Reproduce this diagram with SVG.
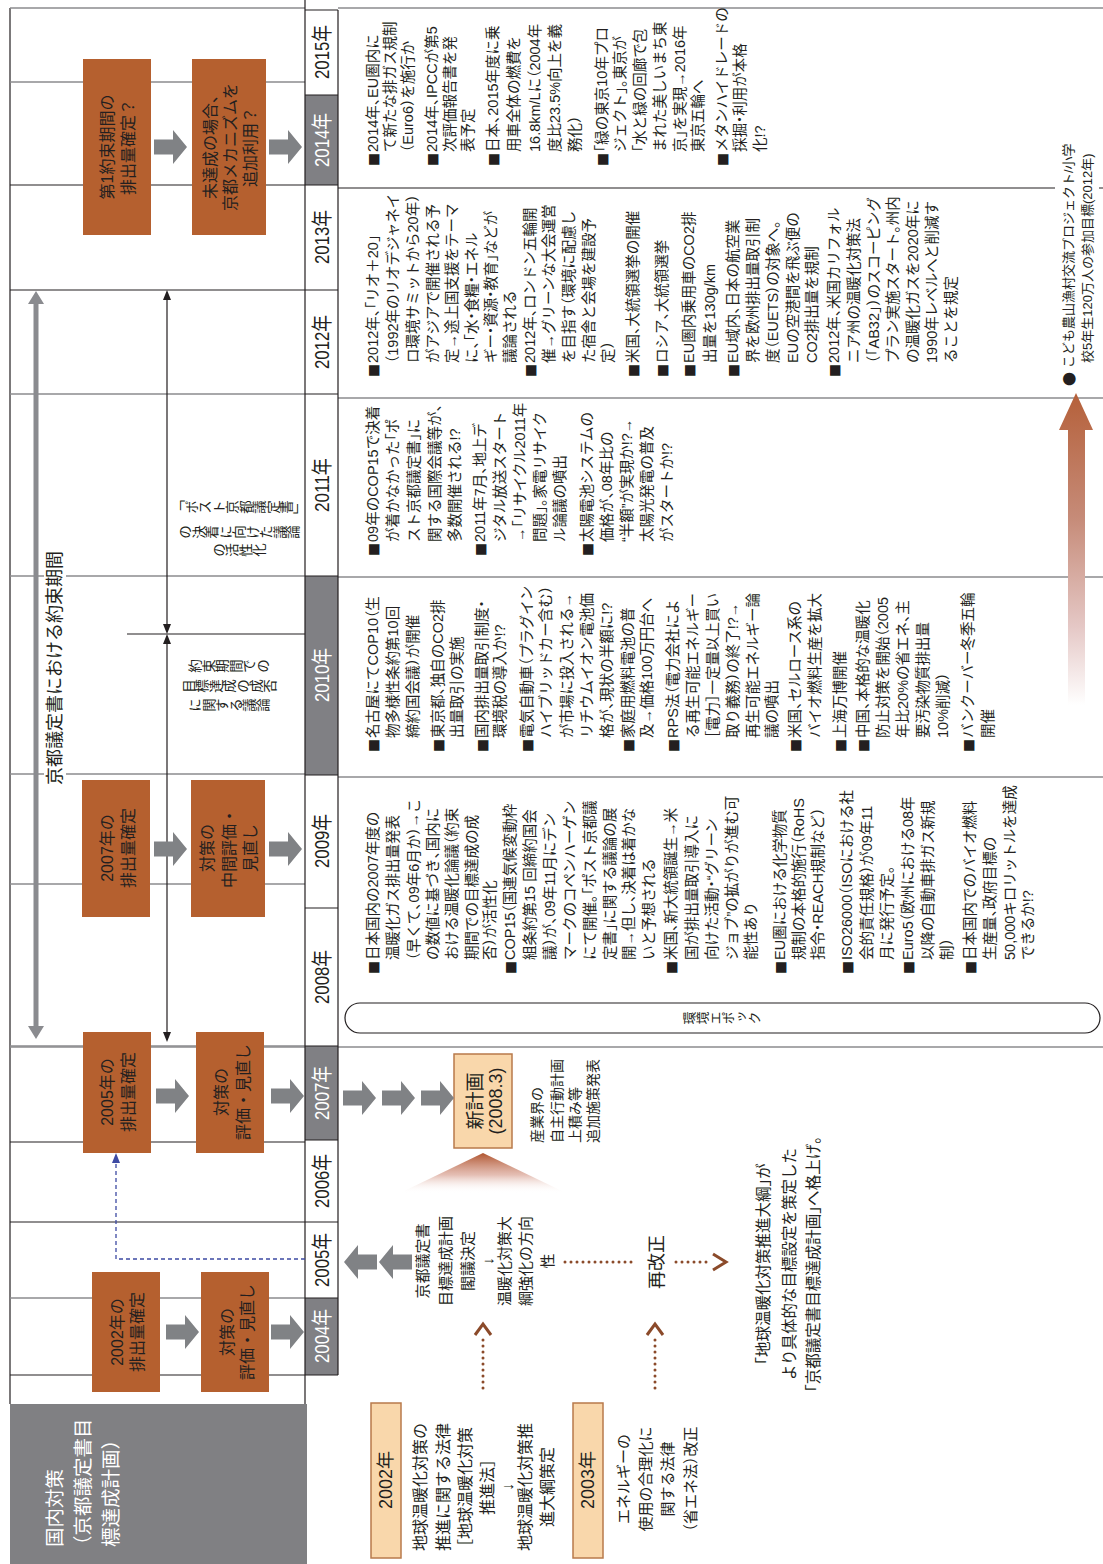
<svg xmlns="http://www.w3.org/2000/svg" width="1103" height="1564" viewBox="0 0 1103 1564">
<defs>
<style>
text{font-family:"Liberation Sans","Noto Sans CJK JP",sans-serif;dominant-baseline:central;fill:#231f20}
.b{font-size:14.5px}
.h{font-feature-settings:"halt"}
.sq{font-family:"Noto Sans CJK JP",sans-serif;font-size:13px}
.w{fill:#fff}
.yr{font-size:21px;text-anchor:middle}
.bx{font-size:16px;text-anchor:middle;fill:#fff}
.c{text-anchor:middle}
.box{fill:#b5602f}
.pe{fill:#f9d7ab;stroke:#b87a4b;stroke-width:1.5}
.lk{stroke:#231f20;stroke-width:1.2;fill:none}
.lg{stroke:#8c8c8f;stroke-width:1.4;fill:none}
.vt{writing-mode:vertical-rl;text-anchor:middle;font-size:13.5px;font-family:"Noto Sans CJK JP",sans-serif}
.dot{stroke:#8b4a2a;stroke-width:3;stroke-linecap:round;stroke-dasharray:0 6;fill:none}
.chev{stroke:#8b4a2a;stroke-width:3;fill:none;stroke-linejoin:miter}
</style>
<path id="ar" d="M0,-7.5 H19 V-17 L33,0 L19,17 V7.5 H0 Z" fill="#808285"/>
<linearGradient id="gTri" x1="0" y1="0" x2="0" y2="1">
<stop offset="0" stop-color="#b0552f"/>
<stop offset="0.55" stop-color="#d9a394" stop-opacity="0.7"/>
<stop offset="1" stop-color="#fff" stop-opacity="0"/>
</linearGradient>
<linearGradient id="gUp" x1="0" y1="0" x2="0" y2="1">
<stop offset="0" stop-color="#b5603a"/>
<stop offset="0.4" stop-color="#c68b78"/>
<stop offset="0.75" stop-color="#e5c8c6"/>
<stop offset="1" stop-color="#fff"/>
</linearGradient>
</defs>
<rect width="1103" height="1564" fill="#fff"/>

<!-- grid: left timeline panel and text rows -->
<g id="grid">
<path class="lk" d="M10,8 V1404"/>
<path class="lg" d="M10,8 H305 M10,82 H305 M10,394 H305 M10,576 H305 M10,774 H305 M10,884 H305 M10,1046 H305 M10,1298 H305"/>
<path class="lk" d="M10,185 H305 M10,290 H305 M127,634 H305 M10,1142 H305 M10,1222 H305 M10,1375 H305"/>
<path class="lg" d="M338,8 H1103 M338,398 H1103 M338,577 H1103 M338,777 H1103 M10,1047 H1103"/>
<path class="lk" d="M338,188 H1103"/>
</g>

<!-- year column -->
<g id="years">
<rect x="305" y="95" width="33" height="90" fill="#808084"/>
<rect x="305" y="576" width="33" height="199" fill="#808084"/>
<rect x="305" y="1046" width="33" height="94" fill="#808084"/>
<rect x="305" y="1298" width="33" height="77" fill="#808084"/>
<path class="lk" d="M305,0 V1404 M338,10 V1375 M305,10 H338 M305,95 H338 M305,185 H338 M305,290 H338 M305,394 H338 M305,576 H338 M305,775 H338 M305,908 H338 M305,1046 H338 M305,1140 H338 M305,1222 H338 M305,1298 H338 M305,1375 H338"/>
</g>

<!-- commitment period span -->
<g id="period">
<path d="M36,300 V1030" stroke="#8a8b8f" stroke-width="5" fill="none"/>
<path d="M36,291 L44,304 L28,304 Z M36,1039 L44,1026 L28,1026 Z" fill="#8a8b8f"/>
<rect x="44" y="548" width="22" height="242" fill="#fff"/>
</g>

<!-- discussion span -->
<g id="discussion">
<path class="lk" d="M167,298 V626 M167,642 V1034"/>
<path d="M167,290 L171,300 L163,300 Z M167,634 L171,624 L163,624 Z M167,634 L171,644 L163,644 Z M167,1042 L171,1032 L163,1032 Z" fill="#231f20"/>
</g>

<!-- orange milestone boxes -->
<g id="b2014a"><rect class="box" x="83" y="59" width="68" height="176"/></g>
<g id="b2014b"><rect class="box" x="192" y="59" width="74" height="176"/></g>
<g id="b2009a"><rect class="box" x="82" y="780" width="68" height="137"/></g>
<g id="b2009b"><rect class="box" x="191" y="780" width="74" height="137"/></g>
<g id="b2007a"><rect class="box" x="83" y="1032" width="68" height="121"/></g>
<g id="b2007b"><rect class="box" x="196" y="1032" width="68" height="121"/></g>
<g id="b2004a"><rect class="box" x="92" y="1272" width="68" height="120"/></g>
<g id="b2004b"><rect class="box" x="201" y="1272" width="68" height="120"/></g>

<!-- domestic measures header -->
<g id="header"><rect x="10" y="1404" width="297" height="160" fill="#808083"/></g>

<!-- new plan box and law boxes -->
<g id="newplan"><rect class="pe" x="454" y="1054" width="58" height="94"/></g>
<g id="y2002"><rect class="pe" x="371" y="1403" width="30" height="155"/></g>
<g id="y2003"><rect class="pe" x="573" y="1403" width="30" height="155"/></g>

<!-- epoch band -->
<g id="epoch"><rect x="345" y="1003" width="755" height="30" rx="15" ry="15" fill="none" stroke="#231f20" stroke-width="1.2"/></g>

<!-- connectors -->
<g id="connectors">
<use href="#ar" x="154" y="147"/><use href="#ar" x="269" y="147"/>
<use href="#ar" x="154" y="849"/><use href="#ar" x="269" y="849"/>
<use href="#ar" x="156" y="1096"/><use href="#ar" x="271" y="1096"/>
<use href="#ar" x="166" y="1332"/><use href="#ar" x="271" y="1332"/>
<use href="#ar" x="343" y="1098"/><use href="#ar" x="382" y="1098"/><use href="#ar" x="421" y="1098"/>
<use href="#ar" transform="translate(377,1262) scale(-1,1)"/>
<use href="#ar" transform="translate(412,1262) scale(-1,1)"/>
<path d="M305,1259 H116 V1162" fill="none" stroke="#3d4aa3" stroke-width="1.3" stroke-dasharray="4 3"/>
<path d="M116,1153 L120,1163 L112,1163 Z" fill="#3d4aa3"/>
<path d="M483,1153 L566,1193 L400,1193 Z" fill="url(#gTri)"/>
<path class="dot" d="M565,1262 H637 M676,1262 H712"/>
<path class="chev" d="M713,1254 L726,1262 L713,1270"/>
<path class="dot" d="M483,1388 V1334 M655,1388 V1334"/>
<path class="chev" d="M475,1335 L483,1324 L491,1335 M647,1335 L655,1324 L663,1335"/>
<path d="M1076,393 L1093,430 L1085,430 L1085,705 L1068,705 L1068,430 L1059,430 Z" fill="url(#gUp)"/>
<rect x="1055" y="135" width="44" height="250" fill="#fff"/>
</g>

<!-- all text, set in the landscape frame -->
<g transform="matrix(0,-1,1,0,0,1564)">
<g class="yr">
<text x="1512" y="321" textLength="54" lengthAdjust="spacingAndGlyphs">2015年</text>
<text x="1424" y="321" textLength="54" lengthAdjust="spacingAndGlyphs" class="w">2014年</text>
<text x="1327" y="321" textLength="54" lengthAdjust="spacingAndGlyphs">2013年</text>
<text x="1222" y="321" textLength="54" lengthAdjust="spacingAndGlyphs">2012年</text>
<text x="1079" y="321" textLength="54" lengthAdjust="spacingAndGlyphs">2011年</text>
<text x="889" y="321" textLength="54" lengthAdjust="spacingAndGlyphs" class="w">2010年</text>
<text x="723" y="321" textLength="54" lengthAdjust="spacingAndGlyphs">2009年</text>
<text x="587" y="321" textLength="54" lengthAdjust="spacingAndGlyphs">2008年</text>
<text x="471" y="321" textLength="54" lengthAdjust="spacingAndGlyphs" class="w">2007年</text>
<text x="383" y="321" textLength="54" lengthAdjust="spacingAndGlyphs">2006年</text>
<text x="304" y="321" textLength="54" lengthAdjust="spacingAndGlyphs">2005年</text>
<text x="228" y="321" textLength="54" lengthAdjust="spacingAndGlyphs" class="w">2004年</text>
</g>

<text x="896" y="55" class="c" style="font-size:18px">京都議定書における約束期間</text>
<text class="vt" x="1057" y="239">「ポスト京都議定書」</text>
<text class="vt" x="1032" y="239">の決着に向けた議論</text>
<text class="vt" x="1014" y="239">の活性化</text>
<text class="vt" x="898" y="229">約束期間での</text>
<text class="vt" x="878" y="229">目標達成の成否</text>
<text class="vt" x="859" y="229">に関する議論</text>

<g class="bx">
<text x="1417" y="107">第1約束期間の</text>
<text x="1417" y="128">排出量確定？</text>
<text x="1417" y="210">未達成の場合<tspan class="h">、</tspan></text>
<text x="1417" y="230">京都メカニズムを</text>
<text x="1417" y="250">追加利用？</text>
<text x="716" y="107">2007年の</text>
<text x="716" y="128">排出量確定</text>
<text x="716" y="207">対策の</text>
<text x="716" y="229">中間評価・</text>
<text x="716" y="250">見直し</text>
<text x="472" y="107">2005年の</text>
<text x="472" y="128">排出量確定</text>
<text x="472" y="221">対策の</text>
<text x="472" y="243">評価・見直し</text>
<text x="232" y="117">2002年の</text>
<text x="232" y="137">排出量確定</text>
<text x="232" y="227">対策の</text>
<text x="232" y="247">評価・見直し</text>
</g>

<g style="font-size:19.5px">
<text x="17" y="55" class="w">国内対策</text>
<text x="9" y="83" class="w">（京都議定書目</text>
<text x="17" y="111" class="w">標達成計画）</text>
</g>

<text x="463" y="475" class="c" style="font-size:19px">新計画</text>
<text x="463" y="496" class="c" style="font-size:18px">(2008.3)</text>
<g style="font-size:14px">
<text x="421" y="537">産業界の</text>
<text x="421" y="557">自主行動計画</text>
<text x="421" y="575">上積み等</text>
<text x="421" y="593">追加施策発表</text>
</g>
<g class="c" style="font-size:15px">
<text x="303" y="422">京都議定書</text>
<text x="303" y="445">目標達成計画</text>
<text x="303" y="467">閣議決定</text>
<text x="303" y="487">↓</text>
<text x="303" y="504">温暖化対策大</text>
<text x="303" y="525">綱強化の方向</text>
<text x="303" y="547">性</text>
</g>
<text x="302" y="657" class="c" style="font-size:18px">再改正</text>

<text x="84" y="386" class="c" style="font-size:18px">2002年</text>
<text x="84" y="588" class="c" style="font-size:18px">2003年</text>
<g class="c" style="font-size:16px">
<text x="77" y="420">地球温暖化対策の</text>
<text x="77" y="443">推進に関する法律</text>
<text x="77" y="465"><tspan class="h">［</tspan>地球温暖化対策</text>
<text x="77" y="487">推進法<tspan class="h">］</tspan></text>
<text x="77" y="507">↓</text>
<text x="77" y="525">地球温暖化対策推</text>
<text x="77" y="547">進大綱策定</text>
</g>
<g class="c" style="font-size:15px">
<text x="85" y="623">エネルギーの</text>
<text x="85" y="645">使用の合理化に</text>
<text x="85" y="667">関する法律</text>
<text x="85" y="690"><tspan class="h">（</tspan>省エネ法<tspan class="h">）</tspan>改正</text>
</g>
<g class="c" style="font-size:15.5px">
<text x="300" y="763"><tspan class="h">「</tspan>地球温暖化対策推進大綱<tspan class="h">」</tspan>が</text>
<text x="300" y="789">より具体的な目標設定を策定した</text>
<text x="300" y="813"><tspan class="h">「</tspan>京都議定書目標達成計画<tspan class="h">」</tspan>へ格上げ<tspan class="h">。</tspan></text>
</g>

<text class="vt" x="546" y="722" style="font-size:13px">環境エポック</text>

<text x="1178" y="1068" class="sq" style="font-size:14px">●</text>
<text x="1196" y="1068" style="font-size:13px">こども農山漁村交流プロジェクト/小学</text>
<text x="1201" y="1087" style="font-size:13px">校5年生120万人の参加目標(2012年)</text>

<!-- 2014-2015 -->
<g class="b">
<text x="1398" y="373" class="sq">■</text><text x="1412" y="373">2014年<tspan class="h">、</tspan>EU圏内に</text>
<text x="1412" y="390">て新たな排ガス規制</text>
<text x="1412" y="408"><tspan class="h">（</tspan>Euro6<tspan class="h">）</tspan>を施行か</text>
<text x="1398" y="432" class="sq">■</text><text x="1412" y="432">2014年<tspan class="h">、</tspan>IPCCが第5</text>
<text x="1412" y="450">次評価報告書を発</text>
<text x="1412" y="468">表予定</text>
<text x="1398" y="493" class="sq">■</text><text x="1412" y="493">日本<tspan class="h">、</tspan>2015年度に乗</text>
<text x="1412" y="514">用車全体の燃費を</text>
<text x="1412" y="535">16.8km/Lに<tspan class="h">（</tspan>2004年</text>
<text x="1412" y="555">度比23.5%向上を義</text>
<text x="1412" y="575">務化<tspan class="h">）</tspan></text>
<text x="1398" y="602" class="sq">■</text><text x="1412" y="602"><tspan class="h">「</tspan>緑の東京10年プロ</text>
<text x="1412" y="620">ジェクト<tspan class="h">」。</tspan>東京が</text>
<text x="1412" y="640"><tspan class="h">「</tspan>水と緑の回廊で包</text>
<text x="1412" y="660">まれた美しいまち東</text>
<text x="1412" y="680">京<tspan class="h">」</tspan>を実現→2016年</text>
<text x="1412" y="698">東京五輪へ</text>
<text x="1398" y="722" class="sq">■</text><text x="1412" y="722">メタンハイドレードの</text>
<text x="1412" y="740">採掘<tspan class="h">・</tspan>利用が本格</text>
<text x="1412" y="760">化!?</text>
</g>

<!-- 2012-2013 -->
<g class="b">
<text x="1187" y="373" class="sq">■</text><text x="1201" y="373">2012年<tspan class="h">、「</tspan>リオ＋20<tspan class="h">」</tspan></text>
<text x="1201" y="393"><tspan class="h">（</tspan>1992年のリオデジャネイ</text>
<text x="1201" y="413">ロ環境サミットから20年<tspan class="h">）</tspan></text>
<text x="1201" y="433">がアジアで開催される予</text>
<text x="1201" y="452">定→途上国支援をテーマ</text>
<text x="1201" y="472">に<tspan class="h">、「</tspan>水<tspan class="h">・</tspan>食糧<tspan class="h">・</tspan>エネル</text>
<text x="1201" y="491">ギー<tspan class="h">・</tspan>資源<tspan class="h">・</tspan>教育<tspan class="h">」</tspan>などが</text>
<text x="1201" y="510">議論される</text>
<text x="1187" y="530" class="sq">■</text><text x="1201" y="530">2012年<tspan class="h">、</tspan>ロンドン五輪開</text>
<text x="1201" y="549">催→グリーンな大会運営</text>
<text x="1201" y="569">を目指す<tspan class="h">（</tspan>環境に配慮し</text>
<text x="1201" y="589">た宿舎と会場を建設予</text>
<text x="1201" y="608">定<tspan class="h">）</tspan></text>
<text x="1187" y="633" class="sq">■</text><text x="1201" y="633">米国<tspan class="h">、</tspan>大統領選挙の開催</text>
<text x="1187" y="662" class="sq">■</text><text x="1201" y="662">ロシア<tspan class="h">、</tspan>大統領選挙</text>
<text x="1187" y="689" class="sq">■</text><text x="1201" y="689">EU圏内乗用車のCO2排</text>
<text x="1201" y="710">出量を130g/km</text>
<text x="1187" y="733" class="sq">■</text><text x="1201" y="733">EU域内<tspan class="h">、</tspan>日本の航空業</text>
<text x="1201" y="753">界を欧州排出量取引制</text>
<text x="1201" y="773">度<tspan class="h">（</tspan>EUETS<tspan class="h">）</tspan>の対象へ<tspan class="h">。</tspan></text>
<text x="1201" y="793">EUの空港間を飛ぶ便の</text>
<text x="1201" y="812">CO2排出量を規制</text>
<text x="1187" y="834" class="sq">■</text><text x="1201" y="834">2012年<tspan class="h">、</tspan>米国カリフォル</text>
<text x="1201" y="854">ニア州の温暖化対策法</text>
<text x="1201" y="874"><tspan class="h">（「</tspan>AB32<tspan class="h">」）</tspan>のスコーピング</text>
<text x="1201" y="893">プラン実施スタート<tspan class="h">。</tspan>州内</text>
<text x="1201" y="913">の温暖化ガスを2020年に</text>
<text x="1201" y="932">1990年レベルへと削減す</text>
<text x="1201" y="951">ることを規定</text>
</g>

<!-- 2011 -->
<g class="b">
<text x="1008" y="373" class="sq">■</text><text x="1022" y="373">09年のCOP15で決着</text>
<text x="1022" y="393">が着かなかった<tspan class="h">「</tspan>ポ</text>
<text x="1022" y="414">スト京都議定書<tspan class="h">」</tspan>に</text>
<text x="1022" y="435">関する国際会議等が<tspan class="h">、</tspan></text>
<text x="1022" y="455">多数開催される!?</text>
<text x="1008" y="480" class="sq">■</text><text x="1022" y="480">2011年7月<tspan class="h">、</tspan>地上デ</text>
<text x="1022" y="500">ジタル放送スタート</text>
<text x="1022" y="520">→<tspan class="h">「</tspan>リサイクル2011年</text>
<text x="1022" y="540">問題<tspan class="h">」。</tspan>家電リサイク</text>
<text x="1022" y="560">ル論議の噴出</text>
<text x="1008" y="587" class="sq">■</text><text x="1022" y="587">太陽電池システムの</text>
<text x="1022" y="607">価格が<tspan class="h">、</tspan>08年比の</text>
<text x="1022" y="627"><tspan class="h">“</tspan>半額<tspan class="h">”</tspan>が実現か!?→</text>
<text x="1022" y="647">太陽光発電の普及</text>
<text x="1022" y="667">がスタートか!?</text>
</g>

<!-- 2010 -->
<g class="b">
<text x="812" y="373" class="sq">■</text><text x="826" y="373">名古屋にてCOP10<tspan class="h">（</tspan>生</text>
<text x="826" y="393">物多様性条約第10回</text>
<text x="826" y="413">締約国会議<tspan class="h">）</tspan>が開催</text>
<text x="812" y="438" class="sq">■</text><text x="826" y="438">東京都<tspan class="h">、</tspan>独自のCO2排</text>
<text x="826" y="457">出量取引の実施</text>
<text x="812" y="482" class="sq">■</text><text x="826" y="482">国内排出量取引制度<tspan class="h">・</tspan></text>
<text x="826" y="500">環境税の導入か!?</text>
<text x="812" y="527" class="sq">■</text><text x="826" y="527">電気自動車<tspan class="h">（</tspan>プラグイン</text>
<text x="826" y="546">ハイブリッドカー含む<tspan class="h">）</tspan></text>
<text x="826" y="567">が市場に投入される→</text>
<text x="826" y="587">リチウムイオン電池価</text>
<text x="826" y="607">格が<tspan class="h">、</tspan>現状の半額に!?</text>
<text x="812" y="628" class="sq">■</text><text x="826" y="628">家庭用燃料電池の普</text>
<text x="826" y="647">及→価格100万円台へ</text>
<text x="812" y="673" class="sq">■</text><text x="826" y="673">RPS法<tspan class="h">（</tspan>電力会社によ</text>
<text x="826" y="693">る再生可能エネルギー</text>
<text x="826" y="713"><tspan class="h">［</tspan>電力<tspan class="h">］</tspan>一定量以上買い</text>
<text x="826" y="733">取り義務<tspan class="h">）</tspan>の終了!?→</text>
<text x="826" y="753">再生可能エネルギー論</text>
<text x="826" y="772">議の噴出</text>
<text x="812" y="795" class="sq">■</text><text x="826" y="795">米国<tspan class="h">、</tspan>セルロース系の</text>
<text x="826" y="815">バイオ燃料生産を拡大</text>
<text x="812" y="840" class="sq">■</text><text x="826" y="840">上海万博開催</text>
<text x="812" y="863" class="sq">■</text><text x="826" y="863">中国<tspan class="h">、</tspan>本格的な温暖化</text>
<text x="826" y="883">防止対策を開始<tspan class="h">（</tspan>2005</text>
<text x="826" y="903">年比20%の省エネ<tspan class="h">、</tspan>主</text>
<text x="826" y="923">要汚染物質排出量</text>
<text x="826" y="943">10%削減<tspan class="h">）</tspan></text>
<text x="812" y="968" class="sq">■</text><text x="826" y="968">バンクーバー冬季五輪</text>
<text x="826" y="988">開催</text>
</g>

<!-- 2008-2009 -->
<g class="b">
<text x="590" y="373" class="sq">■</text><text x="604" y="373">日本国内の2007年度の</text>
<text x="604" y="393">温暖化ガス排出量発表</text>
<text x="604" y="414"><tspan class="h">（</tspan>早くて<tspan class="h">、</tspan>09年6月か<tspan class="h">）</tspan>→こ</text>
<text x="604" y="433">の数値に基づき<tspan class="h">、</tspan>国内に</text>
<text x="604" y="452">おける温暖化論議<tspan class="h">（</tspan>約束</text>
<text x="604" y="472">期間での目標達成の成</text>
<text x="604" y="490">否<tspan class="h">）</tspan>が活性化</text>
<text x="590" y="510" class="sq">■</text><text x="604" y="510">COP15<tspan class="h">（</tspan>国連気候変動枠</text>
<text x="604" y="530">組条約第15 回締約国会</text>
<text x="604" y="550">議<tspan class="h">）</tspan>が<tspan class="h">、</tspan>09年11月にデン</text>
<text x="604" y="570">マークのコペンハーゲン</text>
<text x="604" y="590">にて開催<tspan class="h">。「</tspan>ポスト京都議</text>
<text x="604" y="610">定書<tspan class="h">」</tspan>に関する議論の展</text>
<text x="604" y="629">開→但し<tspan class="h">、</tspan>決着は着かな</text>
<text x="604" y="649">いと予想される</text>
<text x="590" y="671" class="sq">■</text><text x="604" y="671">米国<tspan class="h">、</tspan>新大統領誕生→米</text>
<text x="604" y="692">国が排出量取引導入に</text>
<text x="604" y="712">向けた活動<tspan class="h">・“</tspan>グリーン</text>
<text x="604" y="732">ジョブ<tspan class="h">”</tspan>の拡がりが進む可</text>
<text x="604" y="751">能性あり</text>
<text x="590" y="780" class="sq">■</text><text x="604" y="780">EU圏における化学物質</text>
<text x="604" y="799">規制の本格的施行<tspan class="h">（</tspan>RoHS</text>
<text x="604" y="818">指令<tspan class="h">・</tspan>REACH規制など<tspan class="h">）</tspan></text>
<text x="590" y="847" class="sq">■</text><text x="604" y="847">ISO26000<tspan class="h">（</tspan>ISOにおける社</text>
<text x="604" y="867">会的責任規格<tspan class="h">）</tspan>が09年11</text>
<text x="604" y="887">月に発行予定<tspan class="h">。</tspan></text>
<text x="590" y="908" class="sq">■</text><text x="604" y="908">Euro5<tspan class="h">（</tspan>欧州における08年</text>
<text x="604" y="928">以降の自動車排ガス新規</text>
<text x="604" y="947">制<tspan class="h">）</tspan></text>
<text x="590" y="970" class="sq">■</text><text x="604" y="970">日本国内でのバイオ燃料</text>
<text x="604" y="990">生産量<tspan class="h">、</tspan>政府目標の</text>
<text x="604" y="1010">50,000キロリットルを達成</text>
<text x="604" y="1028">できるか!?</text>
</g>
</g>
</svg>
